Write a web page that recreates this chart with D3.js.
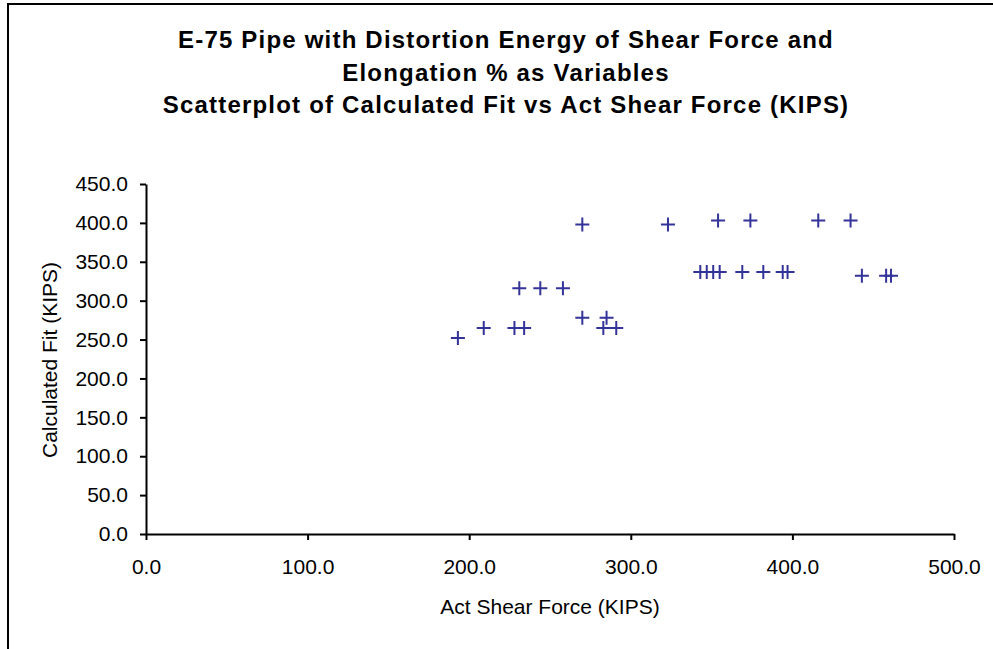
<!DOCTYPE html>
<html>
<head>
<meta charset="utf-8">
<script src="https://cdn.jsdelivr.net/npm/d3@7"></script>
<style>
  body { margin: 0; background: #fff; }
  svg { display: block; font-family: Arial, "Liberation Sans", sans-serif; }
</style>
</head>
<body>
<div id="chart"></div>
<script>
const titleLines = [
  'E-75 Pipe with Distortion Energy of Shear Force and',
  'Elongation % as Variables',
  'Scatterplot of Calculated Fit vs Act Shear Force (KIPS)'
];
const xLabel = 'Act Shear Force (KIPS)';
const yLabel = 'Calculated Fit (KIPS)';

// act shear force (x) and calculated fit (y)
const shearForce = [
  193, 209, 228, 234, 231, 244, 258, 270, 270, 283, 285, 291,
  323, 343, 347, 351, 355, 354, 369, 374, 382, 394, 397,
  416, 436, 443, 458, 461
];
const calculatedFit = [
  252, 265, 265, 265, 316, 316, 316, 398, 278, 265, 278, 265,
  398, 337, 337, 337, 337, 403, 337, 403, 337, 337, 337,
  403, 403, 332, 332, 332
];
const xTicks = [0, 100, 200, 300, 400, 500];
const yTicks = [0, 50, 100, 150, 200, 250, 300, 350, 400, 450];

const width = 993, height = 649;
const margin = { top: 184, right: 39, bottom: 115, left: 146 };

const svg = d3.select('#chart')
  .append('svg')
  .attr('width', width)
  .attr('height', height);

// outer frame (only left and top edges visible)
svg.append('rect')
  .attr('x', 8).attr('y', 4)
  .attr('width', width + 20).attr('height', height + 20)
  .attr('fill', 'none')
  .attr('stroke', '#000')
  .attr('stroke-width', 2);

svg.append('g')
  .selectAll('text')
  .data(titleLines)
  .enter()
  .append('text')
  .attr('x', 506)
  .attr('y', (d, i) => 48 + i * 32.5)
  .attr('text-anchor', 'middle')
  .attr('font-size', 24)
  .attr('letter-spacing', 1.2)
  .attr('font-weight', 'bold')
  .text((d) => d);

const xScale = d3.scaleLinear()
  .domain([0, 500])
  .range([margin.left, width - margin.right]);

const yScale = d3.scaleLinear()
  .domain([0, 450])
  .range([height - margin.bottom, margin.top]);

const xAxis = d3.axisBottom(xScale)
  .tickValues(xTicks)
  .tickSizeInner(6)
  .tickSizeOuter(0)
  .tickPadding(19)
  .tickFormat(d3.format('.1f'));

const yAxis = d3.axisLeft(yScale)
  .tickValues(yTicks)
  .tickSizeInner(6)
  .tickSizeOuter(0)
  .tickPadding(12)
  .tickFormat(d3.format('.1f'));

const gx = svg.append('g')
  .attr('class', 'x-axis')
  .attr('transform', `translate(0,${height - margin.bottom})`)
  .call(xAxis);

const gy = svg.append('g')
  .attr('class', 'y-axis')
  .attr('transform', `translate(${margin.left},0)`)
  .call(yAxis);

[gx, gy].forEach((g) => {
  g.selectAll('path, line').attr('stroke', '#000').attr('stroke-width', 2);
  g.selectAll('text')
    .attr('font-size', 21)
    .attr('fill', '#000')
    .attr('font-family', 'Arial, "Liberation Sans", sans-serif');
});

svg.append('text')
  .attr('x', 550)
  .attr('y', 614)
  .attr('text-anchor', 'middle')
  .attr('font-size', 21)
  .text(xLabel);

svg.append('text')
  .attr('transform', 'translate(57,360) rotate(-90)')
  .attr('text-anchor', 'middle')
  .attr('font-size', 21)
  .text(yLabel);

const points = shearForce.map((x, i) => [x, calculatedFit[i]]);

svg.append('g')
  .selectAll('path')
  .data(points)
  .enter()
  .append('path')
  .attr('d', (d) => {
    const px = xScale(d[0]), py = yScale(d[1]);
    return `M${px - 7},${py}h14M${px},${py - 7}v14`;
  })
  .attr('stroke', '#333399')
  .attr('stroke-width', 2)
  .attr('fill', 'none');
</script>
</body>
</html>
